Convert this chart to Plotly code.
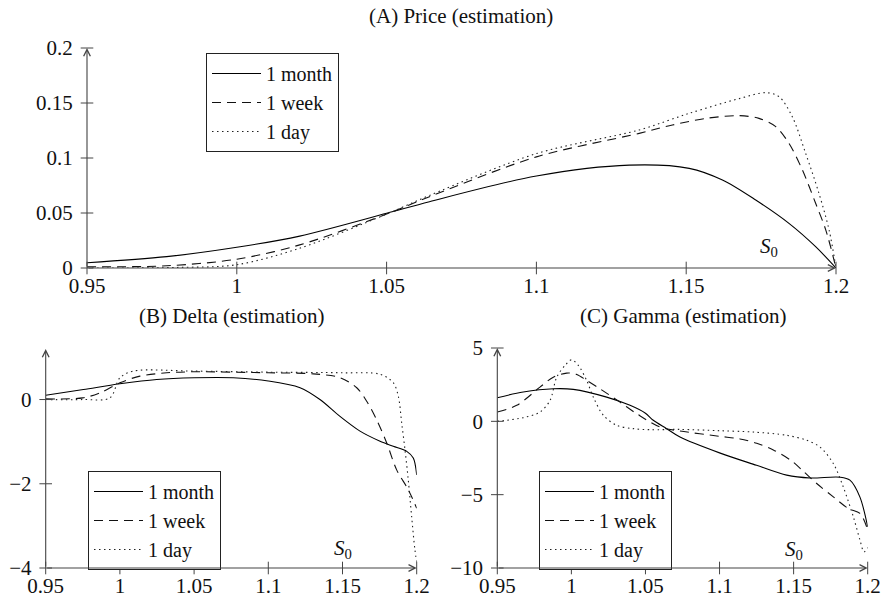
import plotly.graph_objects as go

# ---------------- data ----------------
series_names = ["1 month", "1 week", "1 day"]

# (A) Price
x_price_month = [0.95, 0.9766, 1.0, 1.021, 1.05, 1.0643, 1.1, 1.131, 1.151, 1.1621, 1.1732, 1.1843, 1.1932, 1.2]
price_month = [0.0048, 0.0103, 0.0188, 0.029, 0.0497, 0.0603, 0.0836, 0.0935, 0.0906, 0.080, 0.0618, 0.0406, 0.0194, 0.0]
x_price_week = [0.95, 0.9766, 1.0, 1.021, 1.05, 1.0643, 1.1, 1.1343, 1.1454, 1.1566, 1.1677, 1.1743, 1.1799,
                1.1843, 1.1888, 1.1932, 1.1966, 1.2]
price_week = [0.0012, 0.002, 0.008, 0.021, 0.049, 0.0648, 0.101, 0.1224, 0.130, 0.136, 0.1385, 0.136, 0.1285,
              0.1133, 0.089, 0.0588, 0.0345, 0.0]
x_price_day = [0.95, 0.98, 1.0, 1.021, 1.05, 1.0643, 1.1, 1.1343, 1.151, 1.1677, 1.1766, 1.181, 1.1854,
               1.1899, 1.1943, 1.1977, 1.2]
price_day = [0.0, 0.0005, 0.003, 0.018, 0.049, 0.066, 0.104, 0.1255, 0.1406, 0.154, 0.1594, 0.1557, 0.1376,
             0.104, 0.068, 0.0345, 0.0]

# (B) Delta
x_delta_month = [0.95, 0.9754, 1.0, 1.0248, 1.05, 1.0764, 1.1, 1.1214, 1.1348, 1.1483, 1.1618, 1.1753,
                 1.1842, 1.1933, 1.1977, 1.2]
delta_month = [0.103, 0.238, 0.373, 0.476, 0.516, 0.516, 0.44, 0.28, 0.0, -0.40, -0.75, -0.99,
               -1.11, -1.23, -1.39, -1.79]
x_delta_week = [0.95, 0.975, 0.9866, 1.0, 1.0135, 1.0315, 1.05, 1.1, 1.1303, 1.1483, 1.1596, 1.1663,
                1.173, 1.1798, 1.1865, 1.1943, 1.2]
delta_week = [0.016, 0.04, 0.16, 0.397, 0.556, 0.635, 0.659, 0.635, 0.61, 0.52, 0.28, -0.04,
              -0.48, -1.03, -1.67, -2.14, -2.58]
x_delta_day = [0.95, 0.975, 0.9933, 1.0, 1.009, 1.05, 1.1, 1.15, 1.1753, 1.1842, 1.1876, 1.1899,
               1.1921, 1.1943, 1.1966, 1.1988, 1.2]
delta_day = [0.0, 0.0, 0.04, 0.516, 0.675, 0.675, 0.65, 0.635, 0.6, 0.40, 0.08, -0.56,
             -1.19, -1.90, -2.78, -3.57, -3.85]

# (C) Gamma
x_gamma_month = [0.95, 0.9675, 0.9878, 1.0013, 1.0238, 1.0396, 1.05, 1.0553, 1.0643, 1.0733, 1.1, 1.125,
                 1.1453, 1.161, 1.1813, 1.188, 1.1947, 1.2]
gamma_month = [1.61, 2.0, 2.22, 2.18, 1.65, 1.09, 0.55, 0.07, -0.5, -1.07, -2.15, -3.0,
               -3.67, -3.86, -3.81, -4.01, -5.15, -7.2]
x_gamma_week = [0.95, 0.9631, 0.9788, 0.9878, 0.9968, 1.0036, 1.0103, 1.0193, 1.0328, 1.0441, 1.0598, 1.0733,
                1.1, 1.1138, 1.1251, 1.1363, 1.1487, 1.1565, 1.1656, 1.1768, 1.1869, 1.1948, 1.2]
gamma_week = [0.63, 1.09, 2.33, 3.01, 3.29, 3.2, 2.79, 2.22, 1.31, 0.52, -0.39, -0.66,
              -1.02, -1.2, -1.5, -1.95, -2.7, -3.4, -4.24, -5.15, -5.94, -6.28, -7.4]
x_gamma_day = [0.95, 0.9675, 0.9788, 0.9856, 0.9901, 0.9957, 1.0002, 1.0047, 1.0103, 1.0148, 1.0216, 1.0306,
               1.0418, 1.053, 1.0733, 1.1, 1.1228, 1.1453, 1.1588, 1.1678, 1.1768, 1.1835, 1.1903, 1.1948,
               1.1975, 1.2]
gamma_day = [0.0, 0.25, 0.63, 1.43, 3.01, 3.81, 4.2, 3.81, 2.79, 1.65, 0.41, -0.27,
             -0.5, -0.57, -0.55, -0.64, -0.73, -0.95, -1.29, -1.75, -2.88, -4.47, -6.51, -8.1,
             -8.9, -8.6]

# tick labels
x_tickvals = [0.95, 1.0, 1.05, 1.1, 1.15, 1.2]
x_ticktext = ["0.95", "1", "1.05", "1.1", "1.15", "1.2"]
price_tickvals = [0, 0.05, 0.1, 0.15, 0.2]
price_ticktext = ["0", "0.05", "0.1", "0.15", "0.2"]
delta_tickvals = [-4, -2, 0]
delta_ticktext = ["\u22124", "\u22122", "0"]
gamma_tickvals = [-10, -5, 0, 5]
gamma_ticktext = ["\u221210", "\u22125", "0", "5"]

titles = ["(A) Price (estimation)", "(B) Delta (estimation)", "(C) Gamma (estimation)"]

# ---------------- styling ----------------
FONT = "Liberation Serif"
FS = 21
LFS = 20
AX = "#444444"
dashes = ["solid", "9px,6px", "1.5px,3.5px"]
colors = ["#000000", "#111111", "#222222"]

W, H = 885, 600
# pixel geometry of each panel: (left, right, top, bottom)
panels = {
    "A": (87, 836, 48, 268),
    "B": (45.7, 416.7, 349, 568),
    "C": (497.3, 867.7, 348, 568),
}


def dom(p):
    l, r, t, b = p
    return [l / W, r / W], [1 - b / H, 1 - t / H]


fig = go.Figure()

groups = [
    ("x", "y", "legend", [(x_price_month, price_month), (x_price_week, price_week), (x_price_day, price_day)]),
    ("x2", "y2", "legend2", [(x_delta_month, delta_month), (x_delta_week, delta_week), (x_delta_day, delta_day)]),
    ("x3", "y3", "legend3", [(x_gamma_month, gamma_month), (x_gamma_week, gamma_week), (x_gamma_day, gamma_day)]),
]
for xa, ya, lg, data in groups:
    for i, (xs, ys) in enumerate(data):
        fig.add_trace(go.Scatter(
            x=xs, y=ys, mode="lines", name=series_names[i],
            line=dict(color=colors[i], width=1.1, dash=dashes[i], shape="spline", smoothing=0.9),
            xaxis=xa, yaxis=ya, legend=lg, showlegend=True,
        ))

yranges = {"A": [0, 0.2], "B": [-4, 1.2], "C": [-10, 5]}
yticks = {"A": (price_tickvals, price_ticktext), "B": (delta_tickvals, delta_ticktext),
          "C": (gamma_tickvals, gamma_ticktext)}
keys = ["A", "B", "C"]
suffix = ["", "2", "3"]
tickfont = dict(family=FONT, size=FS, color="#111")

for k, s in zip(keys, suffix):
    xd, yd = dom(panels[k])
    fig.layout["xaxis" + s] = dict(
        domain=xd, range=[0.95, 1.2], anchor="y" + s, showgrid=False, zeroline=False, showline=False,
        tickvals=x_tickvals, ticktext=x_ticktext, ticks="outside", ticklen=4, tickcolor="rgba(0,0,0,0)",
        tickfont=tickfont, fixedrange=True, automargin=False, ticklabelstandoff=-5,
    )
    tv, tt = yticks[k]
    fig.layout["yaxis" + s] = dict(
        domain=yd, range=yranges[k], anchor="x" + s, showgrid=False, zeroline=False, showline=False,
        tickvals=tv, ticktext=tt, ticks="outside", ticklen=4, tickcolor="rgba(0,0,0,0)",
        tickfont=tickfont, fixedrange=True, automargin=False, ticklabelstandoff=5,
    )
    # tick marks crossing the axis lines (pgfplots style), placed at the tick values
    y0 = yranges[k][0]
    fig.add_trace(go.Scatter(
        x=x_tickvals, y=[y0] * len(x_tickvals), mode="markers", xaxis="x" + s, yaxis="y" + s,
        marker=dict(symbol="line-ns", size=9, line=dict(width=1, color=AX)),
        showlegend=False, hoverinfo="skip", cliponaxis=False,
    ))
    fig.add_trace(go.Scatter(
        x=[0.95] * len(tv), y=tv, mode="markers", xaxis="x" + s, yaxis="y" + s,
        marker=dict(symbol="line-ew", size=9, line=dict(width=1, color=AX)),
        showlegend=False, hoverinfo="skip", cliponaxis=False,
    ))

annotations = []
# axis lines with arrow heads
for k, s in zip(keys, suffix):
    y0, y1 = yranges[k]
    xr, yr = "x" + s, "y" + s
    annotations.append(dict(x=1.2, y=y0, ax=0.95, ay=y0, xref=xr, yref=yr, axref=xr, ayref=yr,
                            text="", showarrow=True, arrowhead=5, arrowsize=1.2, arrowwidth=1.1,
                            arrowcolor=AX))
    annotations.append(dict(x=0.95, y=y1, ax=0.95, ay=y0, xref=xr, yref=yr, axref=xr, ayref=yr,
                            text="", showarrow=True, arrowhead=5, arrowsize=1.2, arrowwidth=1.1,
                            arrowcolor=AX))

# S0 labels
s0_pos = {"A": (1.1777, 0.019), "B": (1.1503, -3.55), "C": (1.1503, -8.8)}
for k, s in zip(keys, suffix):
    px, py = s0_pos[k]
    annotations.append(dict(x=px, y=py, xref="x" + s, yref="y" + s, text="<i>S</i><sub>0</sub>",
                            showarrow=False, font=dict(family=FONT, size=FS, color="#111"),
                            xanchor="center", yanchor="middle"))

# titles
title_y = {"A": 15.5, "B": 316, "C": 316}
for k, t in zip(keys, titles):
    l, r, _, _ = panels[k]
    annotations.append(dict(x=(l + r) / 2 / W, y=1 - title_y[k] / H, xref="paper", yref="paper", text=t,
                            showarrow=False, font=dict(family=FONT, size=FS, color="#111"),
                            xanchor="center", yanchor="middle"))

legend_style = dict(bgcolor="white", bordercolor="#222", borderwidth=1,
                    font=dict(family=FONT, size=LFS, color="#111"),
                    xanchor="left", yanchor="top", tracegroupgap=0, itemwidth=49)

fig.update_layout(
    width=W, height=H, autosize=False,
    margin=dict(l=0, r=0, t=0, b=0, autoexpand=False),
    paper_bgcolor="white", plot_bgcolor="white",
    annotations=annotations,
    legend=dict(x=206 / W, y=1 - 53 / H, **legend_style),
    legend2=dict(x=88 / W, y=1 - 471 / H, **legend_style),
    legend3=dict(x=539 / W, y=1 - 471 / H, **legend_style),
    font=dict(family=FONT, size=FS, color="#111"),
)

fig.write_html("out.html", config={"displayModeBar": False},
               post_script="document.body.style.margin='0px';document.body.style.overflow='hidden';")
